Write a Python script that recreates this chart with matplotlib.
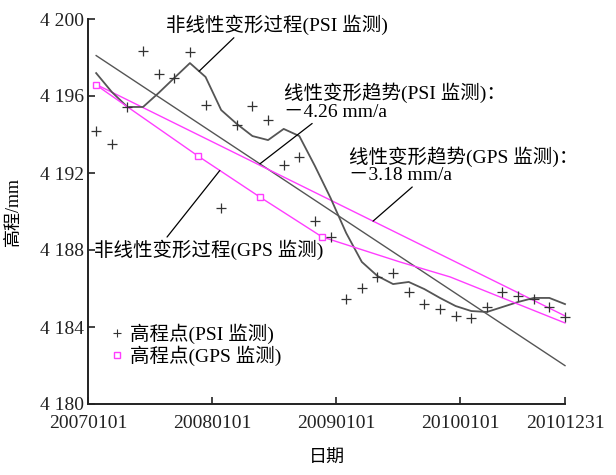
import numpy as np
import matplotlib
matplotlib.use("Agg")
import matplotlib.pyplot as plt

FONT = ["Liberation Serif", "Noto Sans CJK SC"]
plt.rcParams["font.family"] = FONT
plt.rcParams["axes.unicode_minus"] = False

# PSI acquisition epochs (days since 2007-01-01) and heights (mm)
psi_days = [24, 70, 116, 162, 208, 254, 300, 346, 392, 438, 484, 530, 576, 622,
            668, 714, 760, 806, 852, 898, 944, 990, 1036, 1082, 1128, 1174,
            1220, 1266, 1312, 1358, 1404]
psi_points = [4194.16, 4193.50, 4195.43, 4198.34, 4197.14, 4196.94, 4198.29,
              4195.51, 4190.18, 4194.47, 4195.48, 4194.75, 4192.39, 4192.81,
              4189.53, 4188.68, 4185.43, 4186.03, 4186.60, 4186.83, 4185.82,
              4185.19, 4184.94, 4184.57, 4184.47, 4185.04, 4185.82, 4185.61,
              4185.45, 4185.04, 4184.52]
psi_curve = [4197.19, 4196.21, 4195.43, 4195.43, 4196.16, 4196.94, 4197.71,
             4196.99, 4195.27, 4194.55, 4193.92, 4193.71, 4194.29, 4193.92,
             4192.36, 4190.70, 4188.88, 4187.38, 4186.65, 4186.23, 4186.34,
             4185.97, 4185.51, 4185.09, 4184.83, 4184.78, 4185.04, 4185.30,
             4185.51, 4185.51, 4185.19]

# GPS nonlinear process (first four vertices are survey epochs)
gps_days = [24, 324, 506, 689, 918, 1066, 1213, 1404]
gps_curve = [4196.57, 4192.88, 4190.75, 4188.68, 4187.38, 4186.60, 4185.56, 4184.21]
gps_survey = [0, 1, 2, 3]

# Linear trends (mm/a)
psi_rate, psi_start = -4.26, 4198.1
gps_rate, gps_start = -3.18, 4196.6
trend_span = [24, 1404]

x_ticks = [0, 365, 731, 1096, 1404]
x_labels = ["20070101", "20080101", "20090101", "20100101", "20101231"]
y_ticks = [4180, 4184, 4188, 4192, 4196, 4200]

GRAY = "#555555"
MAGENTA = "#ff3dff"
TXT = 14

fig = plt.figure(figsize=(6.16, 4.75), dpi=100)
ax = fig.add_axes([88 / 616, 1 - 404 / 475, 477 / 616, 385 / 475])

def trend(start, rate):
    d = np.array(trend_span, dtype=float)
    return d, start + rate * (d - d[0]) / 365.0

td, tv = trend(psi_start, psi_rate)
ax.plot(td, tv, color=GRAY, lw=1.0, clip_on=False)
gd, gv = trend(gps_start, gps_rate)
ax.plot(gd, gv, color=MAGENTA, lw=1.0, clip_on=False)

ax.plot(psi_days, psi_curve, color=GRAY, lw=1.3, clip_on=False)
ax.plot(gps_days, gps_curve, color=MAGENTA, lw=1.0, clip_on=False,
        marker="s", markevery=gps_survey, ms=5, mfc="white", mec=MAGENTA, mew=1.0)
ax.plot(psi_days, psi_points, ls="none", marker="+", ms=7, mew=0.9,
        color="#333333", clip_on=False)

ax.set_xlim(0, 1404)
ax.set_ylim(4180, 4200)
ax.set_xticks(x_ticks)
ax.set_xticklabels(x_labels)
ax.set_yticks(y_ticks)
ax.set_yticklabels([f"{v // 1000} {v % 1000:03d}" for v in y_ticks])
for s in ("top", "right"):
    ax.spines[s].set_visible(False)
for s in ("left", "bottom"):
    ax.spines[s].set_linewidth(1.4)
    ax.spines[s].set_color("#222222")
ax.tick_params(direction="in", length=5, width=1.2, labelsize=14, pad=3,
               colors="#222222")
ax.tick_params(axis="x", pad=8)

ax.set_ylabel("高程/mm", fontsize=13, labelpad=13)
ax.set_xlabel("日期", fontsize=13, labelpad=13)

arrow = dict(arrowstyle="-", color="black", lw=0.9, shrinkA=0, shrinkB=0)

def at_day(days, vals, d):
    return d, float(np.interp(d, days, vals))

ax.annotate("非线性变形过程(PSI 监测)", xy=at_day(psi_days, psi_curve, 327),
            xytext=(0.163, 0.985), textcoords="axes fraction", fontsize=TXT,
            va="center", ha="left", arrowprops=dict(arrow, relpos=(0.32, 0.0)))
ax.annotate("线性变形趋势(PSI 监测)：\n－4.26 mm/a",
            xy=at_day(list(td), list(tv), 506),
            xytext=(0.41, 0.835), textcoords="axes fraction", fontsize=TXT,
            va="top", ha="left", linespacing=1.05,
            arrowprops=dict(arrow, relpos=(0.145, 0.0)))
ax.annotate("线性变形趋势(GPS 监测)：\n－3.18 mm/a",
            xy=at_day(list(gd), list(gv), 839),
            xytext=(0.547, 0.67), textcoords="axes fraction", fontsize=TXT,
            va="top", ha="left", linespacing=1.05,
            arrowprops=dict(arrow, relpos=(0.29, 0.0)))
ax.annotate("非线性变形过程(GPS 监测)", xy=at_day(gps_days, gps_curve, 388),
            xytext=(0.012, 0.40), textcoords="axes fraction", fontsize=TXT,
            va="center", ha="left", arrowprops=dict(arrow, relpos=(0.31, 1.0)))

h1 = ax.plot([], [], ls="none", marker="+", ms=6, mew=0.8, color="#333333")[0]
h2 = ax.plot([], [], ls="none", marker="s", ms=4, mfc="white", mec=MAGENTA, mew=1.0)[0]
ax.legend([h1, h2], ["高程点(PSI 监测)", "高程点(GPS 监测)"], loc="upper left",
          bbox_to_anchor=(0.015, 0.245), frameon=False, fontsize=TXT,
          handlelength=0.8, handletextpad=0.3, labelspacing=0.1, borderpad=0.2)

fig.savefig("out.png", dpi=100)
